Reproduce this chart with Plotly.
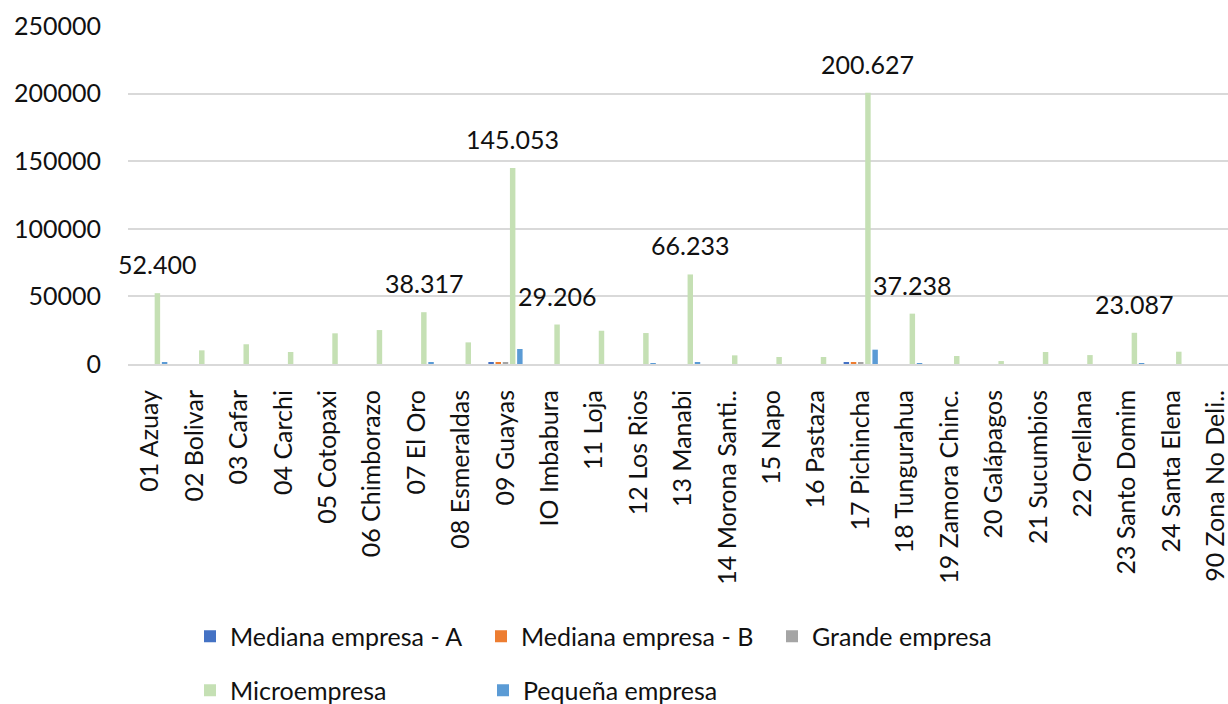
import plotly.graph_objects as go

# Provinces (x-axis categories)
provincias = [
    "01 Azuay", "02 Bolivar", "03 Cafar", "04 Carchi", "05 Cotopaxi",
    "06 Chimborazo", "07 El Oro", "08 Esmeraldas", "09 Guayas", "IO Imbabura",
    "11 Loja", "12 Los Rios", "13 Manabi", "14 Morona Santi..", "15 Napo",
    "16 Pastaza", "17 Pichincha", "18 Tungurahua", "19 Zamora Chinc.",
    "20 Galápagos", "21 Sucumbios", "22 Orellana", "23 Santo Domim",
    "24 Santa Elena", "90 Zona No Deli..",
]

# Number of companies per size class and province
mediana_a = [0, 0, 0, 0, 0, 0, 0, 0, 1300, 0, 0, 0, 0, 0, 0,
             0, 1250, 0, 0, 0, 0, 0, 0, 0, 0]
mediana_b = [0, 0, 0, 0, 0, 0, 0, 0, 1100, 0, 0, 0, 0, 0, 0,
             0, 1100, 0, 0, 0, 0, 0, 0, 0, 0]
grande = [0, 0, 0, 0, 0, 0, 0, 0, 1100, 0, 0, 0, 0, 0, 0,
          0, 1100, 0, 0, 0, 0, 0, 0, 0, 0]
microempresa = [52400, 10100, 14600, 8900, 22700, 25100, 38317, 16000, 145053,
                29206, 24600, 22900, 66233, 6400, 5200, 5200, 200627, 37238,
                5900, 2200, 8900, 6600, 23087, 9100, 0]
pequena = [1500, 0, 0, 0, 0, 0, 1300, 0, 11100, 0, 0, 700,
           1400, 0, 0, 0, 10600, 700, 0, 0, 0, 0, 400, 0, 0]

# Provinces whose Microempresa bar carries a value label
etiquetadas = ["01 Azuay", "07 El Oro", "09 Guayas", "IO Imbabura", "13 Manabi",
               "17 Pichincha", "18 Tungurahua", "23 Santo Domim"]

FONT = "Lato"
TXT = "#111111"

series = [
    ("Mediana empresa - A", mediana_a, "#4472C4", "legend"),
    ("Mediana empresa - B", mediana_b, "#ED7D31", "legend"),
    ("Grande empresa", grande, "#A5A5A5", "legend"),
    ("Microempresa", microempresa, "#C5E0B4", "legend2"),
    ("Pequeña empresa", pequena, "#5B9BD5", "legend2"),
]

fig = go.Figure()
for name, vals, color, leg in series:
    fig.add_trace(go.Bar(
        x=provincias, y=vals, name=name, marker_color=color,
        marker_line_width=0, legend=leg,
    ))

# Value labels above the Microempresa bars (4th bar of 5 in each group)
for prov in etiquetadas:
    v = microempresa[provincias.index(prov)]
    fig.add_annotation(
        x=prov, y=v, xref="x", yref="y",
        text=f"{v:,}".replace(",", "."),
        showarrow=False, yanchor="bottom", xshift=7.2, yshift=12,
        font=dict(family=FONT, size=25, color=TXT),
    )

fig.update_layout(
    width=1228, height=704,
    margin=dict(l=128, r=0, t=26, b=340, autoexpand=False),
    paper_bgcolor="white", plot_bgcolor="white",
    barmode="group", bargap=0.19, bargroupgap=0.24,
    font=dict(family=FONT, size=25, color=TXT),
    xaxis=dict(
        type="category", range=[-0.5, 24.27],
        tickangle=-90, showgrid=False, ticks="",
        showline=True, linecolor="#D9D9D9", linewidth=2,
        ticklabelstandoff=14,
        tickfont=dict(family=FONT, size=25, color=TXT),
    ),
    yaxis=dict(
        range=[0, 250000], dtick=50000, tickformat="d",
        showgrid=True, gridcolor="#D9D9D9", gridwidth=2,
        zeroline=False, showline=False, ticks="",
        ticklabelstandoff=26,
        tickfont=dict(family=FONT, size=25, color=TXT),
    ),
    legend=dict(
        orientation="h", x=(190 - 128) / 1100, xanchor="left",
        y=(363.5 - 636) / 338, yanchor="middle",
        entrywidth=246, traceorder="normal",
        font=dict(family=FONT, size=25, color=TXT),
        bgcolor="rgba(0,0,0,0)",
    ),
    legend2=dict(
        orientation="h", x=(190 - 128) / 1100, xanchor="left",
        y=(363.5 - 690) / 338, yanchor="middle",
        entrywidth=248, traceorder="normal",
        font=dict(family=FONT, size=25, color=TXT),
        bgcolor="rgba(0,0,0,0)",
    ),
)

fig.write_html("out.html")
